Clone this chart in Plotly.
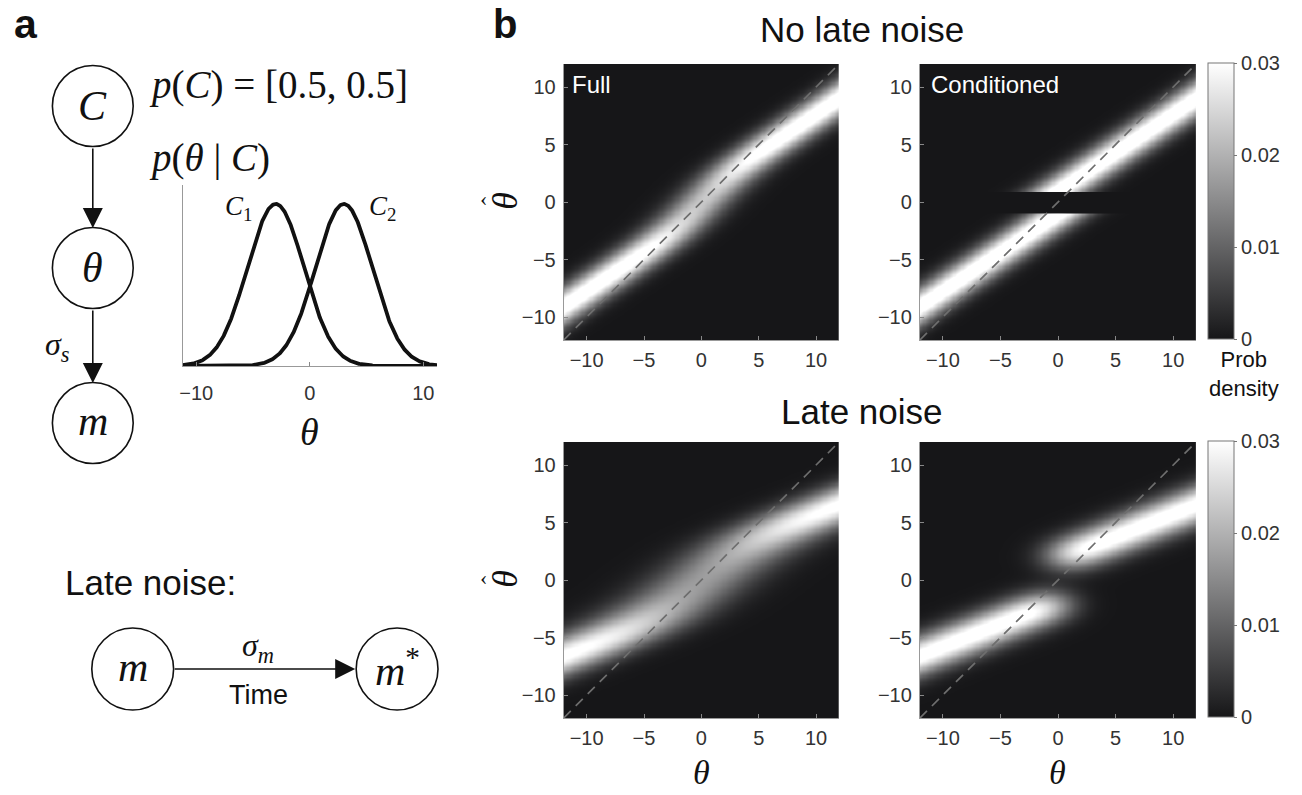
import math
import numpy as np
import plotly.graph_objects as go

# ---------------- data / model parameters ----------------
AXIS_LIMIT = 12.0
GRID_STEP = 0.1
THETA_TICKS = [-10, -5, 0, 5, 10]
SMALL_TICKS = [-10, 0, 10]
PRIOR_MEANS = [-3.0, 3.0]          # C1, C2 category means
PRIOR_SD = 2.5                     # category width
PRIOR_PROBS = [0.5, 0.5]
SENSORY_SD = 1.75                  # sigma_s
LATE_SD = 2.55                     # sigma_m
SMALL_RANGE = [-11.2, 11.2]
CBAR_TICKS = [0, 0.01, 0.02, 0.03]
CBAR_TEXT = ["0", "0.01", "0.02", "0.03"]
PANEL_LABELS = ["Full", "Conditioned"]
ROW_TITLES = ["No late noise", "Late noise"]

W, H = 1302, 795
def px(x): return x / W
def py(y): return 1 - y / H

SANS = "Liberation Sans, Arial, sans-serif"
SERIF = "Liberation Serif, DejaVu Serif, serif"

# ---------------- model densities ----------------
theta = np.round(np.arange(-AXIS_LIMIT, AXIS_LIMIT + 1e-9, GRID_STEP), 4)
that = theta.copy()
MU = PRIOR_MEANS[1]

def npdf(x, mu, sd):
    return np.exp(-(x - mu) ** 2 / (2 * sd ** 2)) / (math.sqrt(2 * math.pi) * sd)

def post_mean(m, sig):
    v = PRIOR_SD ** 2 + sig ** 2
    w = PRIOR_SD ** 2 / v
    l1 = -(m - PRIOR_MEANS[0]) ** 2 / (2 * v)
    l2 = -(m - PRIOR_MEANS[1]) ** 2 / (2 * v)
    p2 = 1.0 / (1.0 + np.exp(np.clip(l1 - l2, -700, 700)))
    return w * m + (1 - w) * MU * (2 * p2 - 1)

def full_density(sig):
    mg = np.linspace(-80, 80, 32001)
    est = post_mean(mg, sig)
    slope = np.gradient(est, mg)
    m_at = np.interp(that, est, mg)
    sl = np.interp(that, est, slope)
    return npdf(m_at[:, None], theta[None, :], sig) / sl[:, None] * GRID_STEP

Phi = np.vectorize(lambda z: 0.5 * (1 + math.erf(z / math.sqrt(2))))

def cond_density(sig_s, sig_m):
    sig_t = math.sqrt(sig_s ** 2 + sig_m ** 2)
    w = PRIOR_SD ** 2 / (PRIOR_SD ** 2 + sig_t ** 2)
    b = (1 - w) * MU
    Z = np.zeros((len(that), len(theta)))
    for sgn in (1, -1):
        mstar = (that - sgn * b) / w
        dens = npdf(mstar[:, None], theta[None, :], sig_t) / w
        if sig_m == 0:
            p = np.broadcast_to((sgn * mstar > 0).astype(float)[:, None], dens.shape)
        else:
            rho = sig_s ** 2 / sig_t ** 2
            s = sig_s * sig_m / sig_t
            mean_m = theta[None, :] + rho * (mstar[:, None] - theta[None, :])
            p = Phi(sgn * mean_m / s)
        Z += dens * p
    return Z * GRID_STEP

SIG_TOT = math.sqrt(SENSORY_SD ** 2 + LATE_SD ** 2)
Z_full = full_density(SENSORY_SD)
Z_cond = cond_density(SENSORY_SD, 0.0)
Z_full_late = full_density(SIG_TOT)
Z_cond_late = cond_density(SENSORY_SD, LATE_SD)

# ---------------- figure ----------------
fig = go.Figure()
GRAY_CS = [[0, "rgb(22,22,24)"], [1, "rgb(255,255,255)"]]

hx = [[562, 838], [919, 1196]]
hy = [[64, 340], [442, 718]]
Zs = [[Z_full, Z_cond], [Z_full_late, Z_cond_late]]

k = 0
for r in range(2):
    for c in range(2):
        k += 1
        xa = "x" if k == 1 else f"x{k}"
        ya = "y" if k == 1 else f"y{k}"
        fig.add_trace(go.Heatmap(x=theta, y=that, z=Zs[r][c],
                                 coloraxis="coloraxis" if r == 0 else "coloraxis2",
                                 zsmooth="best", xaxis=xa, yaxis=ya, hoverinfo="skip"))
        fig.add_trace(go.Scatter(x=[-AXIS_LIMIT, AXIS_LIMIT], y=[-AXIS_LIMIT, AXIS_LIMIT],
                                 mode="lines", xaxis=xa, yaxis=ya,
                                 line=dict(color="rgb(110,110,110)", width=1.7, dash="10px,7px"),
                                 hoverinfo="skip"))
        axis_common = dict(range=[-AXIS_LIMIT, AXIS_LIMIT], tickvals=THETA_TICKS,
                           ticks="inside", ticklen=4, tickcolor="#888", showline=True,
                           linecolor="#999", linewidth=1, showgrid=False, zeroline=False,
                           tickfont=dict(family=SANS, size=20, color="#333"))
        fig.layout[("xaxis" if k == 1 else f"xaxis{k}")] = dict(
            domain=[px(hx[c][0]), px(hx[c][1])], anchor=ya, ticklabelstandoff=2, **axis_common)
        fig.layout[("yaxis" if k == 1 else f"yaxis{k}")] = dict(
            domain=[py(hy[r][1]), py(hy[r][0])], anchor=xa, ticklabelstandoff=3, **axis_common)

# small prior plot
xs = np.linspace(SMALL_RANGE[0], SMALL_RANGE[1], 500)
peak = 0
for mu in PRIOR_MEANS:
    ys = npdf(xs, mu, PRIOR_SD)
    peak = max(peak, ys.max())
    fig.add_trace(go.Scatter(x=xs, y=ys, mode="lines", xaxis="x5", yaxis="y5",
                             line=dict(color="#111", width=3.8), hoverinfo="skip",
                             cliponaxis=False))
fig.layout["xaxis5"] = dict(domain=[px(180), px(435)], anchor="y5", range=SMALL_RANGE,
                            tickvals=SMALL_TICKS, ticks="inside", ticklen=4, tickcolor="#888",
                            showline=True, linecolor="#999", showgrid=False, zeroline=False,
                            tickfont=dict(family=SANS, size=20, color="#333"),
                            ticklabelstandoff=9)
fig.layout["yaxis5"] = dict(domain=[py(366), py(185)], anchor="x5", range=[0, peak * 1.117],
                            showticklabels=False, ticks="", showline=True, linecolor="#999",
                            showgrid=False, zeroline=False)

cbar = dict(x=px(1208), xanchor="left", len=276, lenmode="pixels", thickness=26,
            thicknessmode="pixels", outlinecolor="#777", outlinewidth=1,
            tickvals=CBAR_TICKS, ticktext=CBAR_TEXT, ticks="outside", ticklen=3,
            tickcolor="#777", tickfont=dict(family=SANS, size=20, color="#333"),
            xpad=0, ypad=0, yanchor="middle")
fig.layout.coloraxis = dict(colorscale=GRAY_CS, cmin=0, cmax=CBAR_TICKS[-1],
                            colorbar=dict(y=py(201), **cbar))
fig.layout.coloraxis2 = dict(colorscale=GRAY_CS, cmin=0, cmax=CBAR_TICKS[-1],
                             colorbar=dict(y=py(579), **cbar))

ann = []
def text(x, y, s, size, family=SANS, color="#111", xanchor="center", yanchor="middle", angle=0):
    ann.append(dict(x=px(x), y=py(y), xref="paper", yref="paper", text=s, showarrow=False,
                    font=dict(family=family, size=size, color=color), xanchor=xanchor,
                    yanchor=yanchor, textangle=angle))

text(9, 24, "<b>a</b>", 41, xanchor="left")
text(489, 0, "<b>b</b>", 40, xanchor="left", yanchor="top")
text(861, 30, ROW_TITLES[0], 35)
text(861, 411, ROW_TITLES[1], 35)
text(568, 85, PANEL_LABELS[0], 24, color="white", xanchor="left")
text(928, 85, PANEL_LABELS[1], 24, color="white", xanchor="left")
for yy in (201, 579):
    text(503, yy, "<i>θ</i>", 36, family=SERIF, angle=-90)
    text(482, yy - 2, "‹", 22, family=SERIF)
for xx in (700, 1057):
    text(xx, 772, "<i>θ</i>", 34, family=SERIF)
text(1207, 374, "Prob<br>density", 22, xanchor="left")

# panel a texts
text(144, 85, "<i>p</i>(<i>C</i>) = [0.5, 0.5]", 39, family=SERIF, xanchor="left")
text(144, 158, "<i>p</i>(<i>θ</i> | <i>C</i>)", 39, family=SERIF, xanchor="left")
text(236, 208, "<i>C</i><sub>1</sub>", 27, family=SERIF)
text(380, 208, "<i>C</i><sub>2</sub>", 27, family=SERIF)
text(307, 432, "<i>θ</i>", 38, family=SERIF)
text(90, 106, "<i>C</i>", 42, family=SERIF)
text(90, 268, "<i>θ</i>", 42, family=SERIF)
text(90, 421, "<i>m</i>", 42, family=SERIF)
text(55, 346, "<i>σ</i><sub><i>s</i></sub>", 32, family=SERIF)
text(60, 582, "Late noise:", 35, xanchor="left")
text(130, 667, "<i>m</i>", 42, family=SERIF)
text(395, 667, "<i>m</i><sup>*</sup>", 42, family=SERIF)
text(256, 647, "<i>σ</i><sub><i>m</i></sub>", 32, family=SERIF)
text(256, 695, "Time", 27)

# arrows
for (x0, y0, x1, y1) in [(90, 147, 90, 228), (90, 309, 90, 383), (171, 669, 353, 669)]:
    ann.append(dict(x=px(x1), y=py(y1), xref="paper", yref="paper", ax=x0 - x1, ay=y0 - y1,
                    axref="pixel", ayref="pixel", showarrow=True, arrowhead=2, arrowsize=2.5,
                    arrowwidth=1.6, arrowcolor="#111", text=""))
fig.layout.annotations = ann

shapes = []
for (cx, cy, r) in [(90, 106, 40.5), (90, 268, 40.5), (90, 423, 40.5), (130, 669, 41), (395, 669, 41)]:
    shapes.append(dict(type="circle", xref="paper", yref="paper", x0=px(cx - r), x1=px(cx + r),
                       y0=py(cy + r), y1=py(cy - r), line=dict(color="#111", width=1.6)))
fig.layout.shapes = shapes

fig.update_layout(width=W, height=H, margin=dict(l=0, r=0, t=0, b=0), showlegend=False,
                  paper_bgcolor="white", plot_bgcolor="white")
fig.write_html("out.html")
